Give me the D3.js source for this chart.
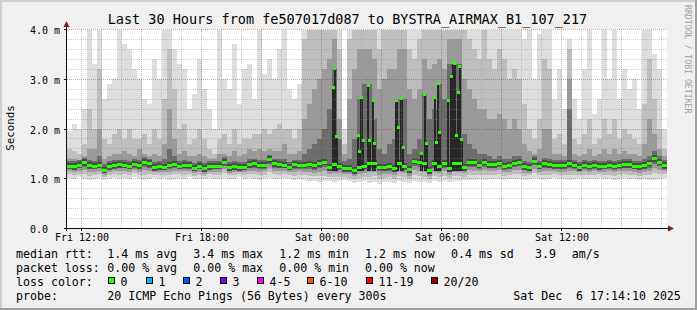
<!DOCTYPE html>
<html>
<head>
<meta charset="utf-8">
<script src="https://cdn.jsdelivr.net/npm/d3@7"></script>
<style>
body { margin: 0; background: #f0f0f0; }
svg text { font-family: "DejaVu Sans Mono", monospace; white-space: pre; }
</style>
</head>
<body>
<div id="chart"></div>
<script>
// ---- data (15 minute columns, values in ms) ----
// median rtt
const med = [
  1.25,1.24,1.27,1.32,1.26,1.25,1.27,1.17,1.24,1.26,
  1.28,1.27,1.25,1.29,1.26,1.33,1.30,1.22,1.24,1.23,
  1.27,1.29,1.25,1.27,1.26,1.21,1.25,1.20,1.24,1.25,
  1.25,1.33,1.22,1.24,1.22,1.23,1.28,1.30,1.27,1.27,
  1.38,1.30,1.28,1.27,1.23,1.28,1.27,1.27,1.29,1.26,
  1.30,1.33,1.22,1.28,1.25,1.20,1.20,1.16,1.22,1.25,
  1.30,1.30,1.23,1.22,1.24,1.20,1.30,1.25,1.18,1.35,
  1.33,1.30,1.16,1.30,1.25,1.30,1.20,1.30,1.30,1.22,
  1.32,1.32,1.27,1.33,1.28,1.28,1.31,1.25,1.26,1.31,
  1.33,1.24,1.22,1.35,1.25,1.30,1.28,1.26,1.26,1.26,
  1.30,1.27,1.22,1.27,1.25,1.27,1.24,1.25,1.27,1.25,
  1.27,1.28,1.28,1.25,1.24,1.26,1.31,1.40,1.33,1.26
];
// slowest ping of the column (top of the lightest smoke)
const maxPing = [
  1.95,2.10,2.00,2.40,4.00,3.30,4.00,2.60,2.90,3.00,
  4.00,3.70,3.60,3.20,3.00,2.60,2.50,3.40,3.00,4.00,
  4.00,3.60,3.30,3.20,2.40,2.70,3.40,2.80,2.40,2.00,
  4.00,3.00,2.80,3.70,2.50,3.20,3.30,2.60,4.00,3.10,
  3.40,3.00,3.60,4.00,2.80,2.60,2.90,4.00,4.00,4.00,
  4.00,4.00,4.00,4.00,4.00,2.00,4.00,4.00,4.00,4.00,
  4.00,4.00,4.00,4.00,4.00,4.00,4.00,4.00,4.00,4.00,
  4.00,4.00,4.00,4.00,4.00,4.00,4.00,4.00,4.00,4.00,
  4.00,4.00,4.00,4.00,4.00,4.00,4.00,4.00,4.00,4.00,
  4.00,3.80,4.00,3.00,3.90,4.00,4.00,2.60,3.20,2.40,
  3.80,2.60,2.20,3.20,4.00,2.30,2.60,4.00,3.00,4.00,
  2.60,3.20,2.80,3.00,2.40,4.00,4.00,3.50,3.20,2.00
];
// upper edge of the second smoke band
const p90 = [
  1.60,1.55,1.50,1.70,2.40,2.00,3.20,1.80,1.70,1.90,
  2.00,1.80,2.00,1.80,1.80,1.90,1.70,2.00,1.80,2.60,
  3.60,2.80,2.00,2.10,1.70,1.80,2.00,1.80,1.60,1.50,
  1.80,1.90,1.70,2.00,1.70,1.80,1.80,1.90,1.90,2.00,
  1.90,2.00,2.10,2.00,2.00,1.80,2.00,3.80,4.00,4.00,
  4.00,4.00,4.00,4.00,3.60,1.70,3.80,4.00,4.00,4.00,
  4.00,4.00,3.60,4.00,4.00,4.00,4.00,4.00,3.60,3.40,
  3.80,4.00,4.00,4.00,4.00,4.00,4.00,4.00,4.00,4.00,
  3.80,3.60,3.40,4.00,3.40,3.20,3.60,3.40,3.00,3.20,
  3.00,2.50,2.00,1.80,2.20,3.40,3.20,1.80,1.90,1.70,
  3.60,1.80,1.70,1.90,2.20,1.70,1.80,2.20,1.90,2.20,
  1.80,2.00,1.90,1.80,1.70,2.50,3.40,2.60,2.00,1.60
];
// upper edge of the third smoke band
const p75 = [
  1.40,1.40,1.38,1.45,1.60,1.60,2.00,1.40,1.45,1.50,
  1.50,1.55,1.50,1.45,1.60,1.50,1.45,1.50,1.45,1.70,
  2.40,1.80,1.50,1.55,1.45,1.45,1.50,1.45,1.40,1.40,
  1.50,1.50,1.45,1.55,1.45,1.50,1.60,1.55,1.60,1.55,
  1.60,1.55,1.55,1.70,1.50,1.50,1.55,2.20,2.50,2.80,
  3.00,3.20,3.40,3.80,2.20,1.50,2.60,3.20,3.60,3.60,
  3.60,3.40,2.80,3.00,3.20,3.20,3.60,3.60,2.80,2.60,
  2.80,3.40,3.20,3.30,3.40,3.20,3.80,3.80,3.80,3.00,
  2.80,2.60,2.40,2.40,2.20,2.20,2.30,2.20,2.00,2.20,
  2.00,1.70,1.55,1.50,1.60,2.00,2.00,1.50,1.50,1.45,
  3.00,1.50,1.45,1.50,1.60,1.45,1.50,1.60,1.50,1.60,
  1.50,1.55,1.50,1.50,1.45,1.70,2.20,1.90,1.60,1.45
];
// upper edge of the darkest smoke band
const p60 = [
  1.36,1.35,1.37,1.42,1.38,1.36,1.45,1.30,1.35,1.38,
  1.38,1.38,1.36,1.40,1.38,1.43,1.40,1.33,1.35,1.40,
  1.60,1.45,1.36,1.38,1.36,1.32,1.36,1.31,1.35,1.35,
  1.36,1.43,1.33,1.35,1.33,1.34,1.39,1.40,1.38,1.38,
  1.48,1.40,1.39,1.40,1.34,1.38,1.38,1.50,1.60,1.70,
  1.80,2.00,2.40,3.20,1.80,1.35,1.40,1.80,2.60,2.90,
  2.90,2.20,1.60,1.50,1.70,1.80,2.60,2.60,1.50,1.60,
  1.80,2.70,2.20,2.40,2.90,2.60,3.30,3.30,3.30,1.90,
  1.70,1.60,1.50,1.50,1.45,1.40,1.45,1.40,1.40,1.45,
  1.45,1.35,1.33,1.45,1.36,1.42,1.40,1.37,1.37,1.37,
  2.40,1.38,1.33,1.38,1.36,1.38,1.35,1.36,1.38,1.36,
  1.38,1.39,1.39,1.36,1.35,1.40,1.45,1.55,1.45,1.37
];
// fastest ping of the column
const minPing = [
  1.02,1.00,1.03,1.00,0.98,1.00,1.02,0.98,1.00,1.02,
  1.00,1.02,1.00,1.03,1.00,0.98,1.00,1.02,1.00,1.01,
  0.98,1.00,1.02,1.00,1.03,1.00,1.00,0.99,1.02,1.00,
  1.00,1.02,1.00,1.00,1.03,1.00,1.01,1.00,0.98,1.00,
  1.02,1.00,1.00,1.02,1.00,0.97,1.00,0.98,0.95,0.96,
  0.94,0.95,0.96,0.93,0.95,0.97,0.95,0.92,0.93,0.95,
  0.92,0.94,0.90,0.93,0.94,0.92,0.95,0.93,0.92,0.95,
  0.94,0.93,0.92,0.95,0.93,0.96,0.94,0.95,0.95,0.97,
  0.98,0.97,1.00,0.98,1.00,0.99,1.00,0.98,1.00,1.00,
  1.00,0.98,1.00,1.02,1.00,0.98,1.00,1.02,1.00,1.00,
  0.98,1.00,1.02,1.00,0.99,1.00,1.02,1.00,1.00,0.98,
  1.00,1.02,1.00,1.00,0.98,1.00,0.97,0.98,1.00,1.02
];
// single 5 minute samples where the median jumped up (index = 5 min slot from start)
const spikeSlot = [159,160,161,174,175,176,177,180,181,183,184,197,198,200,201,212,214,215,220,221,222,223,228,230,231,232,233,234,235,236];
const spikeVal  = [2.83,3.21,1.85,1.87,1.55,2.63,1.77,2.87,1.77,2.57,1.71,2.57,2.03,2.61,1.63,1.50,2.69,1.70,2.63,1.73,2.92,1.93,2.57,3.05,3.33,3.31,1.87,2.73,3.25,1.78];

const yTicks = [0, 1, 2, 3, 4];
const yTickLabels = ["0.0  ", "1.0 m", "2.0 m", "3.0 m", "4.0 m"];
const xTickLabels = ["Fri 12:00", "Fri 18:00", "Sat 00:00", "Sat 06:00", "Sat 12:00"];

const lossLabels = ["0", "1", "2", "3", "4-5", "6-10", "11-19", "20/20"];
const lossColors = ["#26ff00", "#00b8ff", "#0059ff", "#7e00ff", "#ff00ff", "#ff5500", "#ff0000", "#a10000"];
const lossBoxX = [108, 146, 183, 220, 257, 307, 366, 431];

// ---- layout ----
const W = 697, H = 310;
const t0 = new Date(2025, 11, 5, 11, 15);
const t1 = new Date(2025, 11, 6, 17, 15);
const colMin = 15, slotMin = 5;

var x = d3.scaleTime().domain([t0, t1]).range([67, 667]);
var y = d3.scaleLinear().domain([0, 4]).range([228.5, 29.5]);
const tAt = m => new Date(t0.getTime() + m * 60000);

const svg = d3.select("#chart").append("svg")
  .attr("width", W).attr("height", H);

// background + rrdtool style frame
svg.append("rect").attr("width", W).attr("height", H).attr("fill", "#f0f0f0");
svg.append("path").attr("d", `M0,${H} V0 H${W}`).attr("fill", "none")
  .attr("stroke", "#cfcfcf").attr("stroke-width", 4);
svg.append("path").attr("d", `M0,${H} H${W} V0`).attr("fill", "none")
  .attr("stroke", "#9e9e9e").attr("stroke-width", 4);

// white canvas
svg.append("rect").attr("x", 67).attr("y", 29).attr("width", 600).attr("height", 200).attr("fill", "#fff");

svg.append("clipPath").attr("id", "plot")
  .append("rect").attr("x", 67).attr("y", 29).attr("width", 600).attr("height", 199.5);

const plot = svg.append("g").attr("clip-path", "url(#plot)").attr("shape-rendering", "crispEdges");

// smoke: outer band is lightest, inner ones darker
const layers = [
  { top: maxPing, f: 0,    color: "#dddddd" },
  { top: p90,     f: 0.3,  color: "#bebebe" },
  { top: p75,     f: 0.55, color: "#9a9a9a" },
  { top: p60,     f: 0.75, color: "#6c6c6c" }
];
const cols = d3.range(med.length);

layers.forEach(L => {
  plot.append("g").selectAll("rect")
    .data(cols)
    .join("rect")
    .attr("x", k => x(tAt(k * colMin)))
    .attr("width", k => x(tAt((k + 1) * colMin)) - x(tAt(k * colMin)))
    .attr("y", k => y(L.top[k]))
    .attr("height", k => y(minPing[k] + (med[k] - minPing[k]) * L.f) - y(L.top[k]))
    .attr("fill", L.color);
});

// dark core round the median
plot.append("g").selectAll("rect")
  .data(cols)
  .join("rect")
  .attr("x", k => x(tAt(k * colMin)))
  .attr("width", k => x(tAt((k + 1) * colMin)) - x(tAt(k * colMin)))
  .attr("y", k => y(med[k] + 0.07))
  .attr("height", k => y(med[k] - 0.06) - y(med[k] + 0.07))
  .attr("fill", "#4a4a4a");

// dark columns under the median jumps
plot.append("g").selectAll("rect")
  .data(spikeSlot)
  .join("rect")
  .attr("x", s => x(tAt(s * slotMin)))
  .attr("width", s => x(tAt((s + 1) * slotMin)) - x(tAt(s * slotMin)) + 0.5)
  .attr("y", (s, i) => y(spikeVal[i] + 0.03))
  .attr("height", (s, i) => y(1.15) - y(spikeVal[i] + 0.03))
  .attr("fill", "#262626");

// grid (drawn over the smoke like rrdtool does)
const grid = svg.append("g").attr("fill", "none").attr("stroke-dasharray", "1,1");
d3.range(0, 4.01, 0.2).forEach(v => {
  const major = Math.abs(v - Math.round(v)) < 1e-6;
  const yy = Math.floor(y(v)) + 0.5;
  grid.append("line").attr("x1", 67).attr("x2", 667).attr("y1", yy).attr("y2", yy)
    .attr("stroke", major ? "rgba(130,30,30,0.35)" : "rgba(140,140,140,0.4)");
});
d3.timeHour.range(tAt(45), t1).forEach(t => {
  const major = t.getHours() % 3 === 0;
  const xx = Math.round(x(t)) - 0.5;
  grid.append("line").attr("x1", xx).attr("x2", xx).attr("y1", 29).attr("y2", 228)
    .attr("stroke", major ? "rgba(130,30,30,0.35)" : "rgba(140,140,140,0.4)");
});

// median (smokeping draws it as a small band, green = no loss)
plot.append("g").selectAll("rect")
  .data(cols)
  .join("rect")
  .attr("x", k => x(tAt(k * colMin)))
  .attr("width", k => x(tAt((k + 1) * colMin)) - x(tAt(k * colMin)))
  .attr("y", k => y(med[k]) - 1.5)
  .attr("height", 3)
  .attr("fill", lossColors[0]);

plot.append("g").selectAll("rect")
  .data(spikeSlot)
  .join("rect")
  .attr("x", s => x(tAt(s * slotMin)) - 0.5)
  .attr("width", 3)
  .attr("y", (s, i) => y(spikeVal[i]) - 1.5)
  .attr("height", 3)
  .attr("fill", lossColors[0]);

// axes
const ax = svg.append("g").attr("shape-rendering", "crispEdges");
ax.append("line").attr("x1", 64).attr("x2", 670).attr("y1", 228.5).attr("y2", 228.5).attr("stroke", "#101010");
ax.append("line").attr("x1", 66.5).attr("x2", 66.5).attr("y1", 231).attr("y2", 26).attr("stroke", "#101010");
svg.append("path").attr("d", "M668,225.5 L674,228.5 L668,231.5 Z").attr("fill", "#7f1f1f");
svg.append("path").attr("d", "M63.5,27 L66.5,21 L69.5,27 Z").attr("fill", "#7f1f1f");

yTicks.forEach((v, i) => {
  const yy = Math.floor(y(v)) + 0.5;
  ax.append("line").attr("x1", 64).attr("x2", 67).attr("y1", yy).attr("y2", yy).attr("stroke", "#101010");
  svg.append("text").attr("x", 60).attr("y", yy + 4.5).attr("text-anchor", "end")
    .attr("font-size", 10).attr("fill", "#000").text(yTickLabels[i]);
});

d3.timeHour.every(6).range(tAt(45), t1).forEach((t, i) => {
  const xx = Math.round(x(t)) - 0.5;
  ax.append("line").attr("x1", xx).attr("x2", xx).attr("y1", 228).attr("y2", 231).attr("stroke", "#101010");
  svg.append("text").attr("x", xx + 0.5).attr("y", 241).attr("text-anchor", "middle")
    .attr("font-size", 10).attr("fill", "#000").text(xTickLabels[i]);
});

// titles
svg.append("text").attr("x", 347.5).attr("y", 24).attr("text-anchor", "middle")
  .attr("font-size", 13.5).attr("fill", "#000")
  .text("Last 30 Hours from fe507017d087 to BYSTRA_AIRMAX_B1_107_217");
svg.append("text").attr("transform", "translate(14,128) rotate(-90)").attr("text-anchor", "middle")
  .attr("font-size", 10.8).attr("fill", "#000").text("Seconds");
svg.append("text").attr("transform", "translate(685,5) rotate(90)")
  .attr("font-size", 8.2).attr("fill", "#a0a0a0").text("RRDTOOL / TOBI OETIKER");

// legend
const lg = svg.append("g").attr("font-size", 11.6).attr("fill", "#000");
const rows = [
  [[16, "median rtt:"], [107.3, "1.4 ms avg"], [193.3, "3.4 ms max"], [279.3, "1.2 ms min"], [365, "1.2 ms now"], [451, "0.4 ms sd"], [535, "3.9"], [571.7, "am/s"]],
  [[16, "packet loss:"], [107.3, "0.00 % avg"], [193.3, "0.00 % max"], [279.3, "0.00 % min"], [365, "0.00 % now"]],
  [[16, "loss color:"]],
  [[16, "probe:"], [107.3, "20 ICMP Echo Pings (56 Bytes) every 300s"], [513.3, "Sat Dec  6 17:14:10 2025"]]
];
const rowY = [257.5, 271.6, 285.7, 299.8];
rows.forEach((r, i) => r.forEach(([xx, s]) => lg.append("text").attr("x", xx).attr("y", rowY[i]).text(s)));

lossLabels.forEach((s, i) => {
  lg.append("rect").attr("x", lossBoxX[i] + 0.5).attr("y", 277.5).attr("width", 6).attr("height", 6)
    .attr("fill", lossColors[i]).attr("stroke", "#000").attr("shape-rendering", "crispEdges");
  lg.append("text").attr("x", lossBoxX[i] + 12.5).attr("y", rowY[2]).text(s);
});
</script>
</body>
</html>
